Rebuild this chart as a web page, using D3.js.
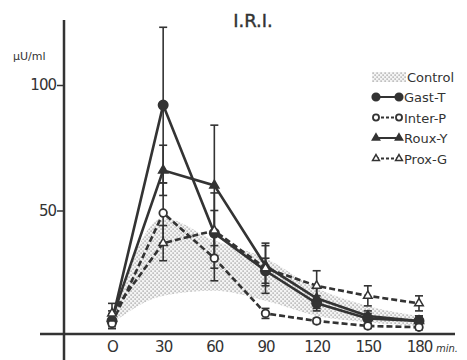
<!DOCTYPE html>
<html>
<head>
<meta charset="utf-8">
<script src="https://cdn.jsdelivr.net/npm/d3@7.9.0/dist/d3.min.js"></script>
<style>
  body { margin: 0; background: #fff; }
  svg text { font-family: "DejaVu Sans", sans-serif; fill: #333; }
</style>
</head>
<body>
<svg width="467" height="360"></svg>
<script>
// time points (min) and tick labels
const times = [0, 30, 60, 90, 120, 150, 180];
const xLabels = ['O', '30', '60', '90', '120', '150', '180'];
const yTicks = [50, 100];

// control range (shaded band)
const controlUpper = [8, 47, 38, 31, 19, 12, 8];
const controlLower = [5, 16, 18, 14, 8, 5.5, 4];

// group means and SD
const gastT = [6, 92, 41, 26, 13, 7, 6];
const gastTSd = [3, 31, 9, 5, 3, 2, 2];
const interP = [5, 49, 31, 9, 6, 4, 3.5];
const interPSd = [2, 12, 9, 2, 1, 1, 1];
const rouxY = [7, 66, 60, 28, 15, 8, 6];
const rouxYSd = [3, 10, 24, 8, 4, 2, 2];
const proxG = [9, 37, 42, 27, 20, 16, 13];
const proxGSd = [4, 7, 15, 10, 6, 4, 3];

const series = [
  { name: 'Gast-T', values: gastT, sd: gastTSd, dashed: false, shape: 'circle', filled: true },
  { name: 'Inter-P', values: interP, sd: interPSd, dashed: true, shape: 'circle', filled: false },
  { name: 'Roux-Y', values: rouxY, sd: rouxYSd, dashed: false, shape: 'triangle', filled: true },
  { name: 'Prox-G', values: proxG, sd: proxGSd, dashed: true, shape: 'triangle', filled: false },
];

const ink = '#333';
const svg = d3.select('svg');

let x = d3.scaleLinear().domain([0, 180]).range([112, 419]);
let y = d3.scaleLinear().domain([0, 100]).range([336, 85]);

// stipple pattern for control (staggered dots)
const defs = svg.append('defs');
const pat = defs.append('pattern')
  .attr('id', 'dots')
  .attr('width', 4).attr('height', 4)
  .attr('patternUnits', 'userSpaceOnUse');
pat.append('rect').attr('width', 4).attr('height', 4).attr('fill', '#f4f4f4');
pat.append('rect').attr('x', 0.5).attr('y', 0.5).attr('width', 1.2).attr('height', 1.2).attr('fill', '#8c8c8c');
pat.append('rect').attr('x', 2.5).attr('y', 2.5).attr('width', 1.2).attr('height', 1.2).attr('fill', '#8c8c8c');

// control band
let area = d3.area()
  .x((d, i) => x(times[i]))
  .y0((d, i) => y(controlLower[i]))
  .y1((d) => y(d))
  .curve(d3.curveMonotoneX);
svg.append('path')
  .datum(controlUpper)
  .attr('d', area)
  .attr('fill', 'url(#dots)');

// axes
svg.append('line')
  .attr('x1', 64).attr('x2', 64).attr('y1', 20).attr('y2', 360)
  .attr('stroke', ink).attr('stroke-width', 2.5);
svg.append('line')
  .attr('x1', 40).attr('x2', 455).attr('y1', 334).attr('y2', 334)
  .attr('stroke', ink).attr('stroke-width', 2.5);

let yAxis = svg.append('g')
  .attr('transform', 'translate(64,0)')
  .call(d3.axisLeft(y).tickValues(yTicks).tickSize(7).tickPadding(1));
yAxis.select('.domain').remove();
yAxis.selectAll('line').attr('stroke', ink).attr('stroke-width', 1.5);
yAxis.selectAll('text').attr('font-size', 15).attr('fill', ink)
  .style('font-family', '"DejaVu Sans", sans-serif').attr('letter-spacing', -1);

let xAxis = svg.append('g')
  .attr('transform', 'translate(0,334)')
  .call(d3.axisBottom(x).tickValues(times).tickSize(0).tickPadding(7)
    .tickFormat((d, i) => xLabels[i]));
xAxis.select('.domain').remove();
xAxis.selectAll('text').attr('font-size', 15).attr('fill', ink)
  .style('font-family', '"DejaVu Sans", sans-serif').attr('letter-spacing', -1);

// titles
svg.append('text').attr('x', 253).attr('y', 27).attr('text-anchor', 'middle')
  .attr('font-size', 18).attr('stroke', ink).attr('stroke-width', 0.4).text('I.R.I.');
svg.append('text').attr('x', 13).attr('y', 60)
  .attr('font-size', 11).text('μU/ml');
svg.append('text').attr('x', 436).attr('y', 352)
  .attr('font-size', 10).attr('font-style', 'italic').text('min.');

// error bars
series.forEach((s) => {
  let g = svg.append('g');
  s.values.forEach((v, i) => {
    let cx = x(times[i]);
    let top = y(v + s.sd[i]);
    let bot = y(Math.max(0, v - s.sd[i]));
    g.append('line').attr('x1', cx).attr('x2', cx).attr('y1', top).attr('y2', bot)
      .attr('stroke', ink).attr('stroke-width', 1.6);
    [top, bot].forEach((yy) => {
      g.append('line').attr('x1', cx - 4).attr('x2', cx + 4).attr('y1', yy).attr('y2', yy)
        .attr('stroke', ink).attr('stroke-width', 1.6);
    });
  });
});

function drawMarker(g, s, cx, cy, k = 1) {
  if (s.shape === 'circle') {
    g.append('circle').attr('cx', cx).attr('cy', cy).attr('r', (s.filled ? 4.6 : 3.8) * k)
      .attr('fill', s.filled ? ink : '#fff').attr('stroke', ink).attr('stroke-width', 1.8);
  } else {
    g.append('path')
      .attr('d', d3.symbol().type(d3.symbolTriangle).size((s.filled ? 36 : 32) * k * k)())
      .attr('transform', `translate(${cx},${cy})`)
      .attr('fill', s.filled ? ink : '#fff').attr('stroke', ink).attr('stroke-width', 1.5);
  }
}

// lines
let line = d3.line().x((d, i) => x(times[i])).y((d) => y(d));
series.forEach((s) => {
  svg.append('path')
    .datum(s.values)
    .attr('d', line)
    .attr('fill', 'none')
    .attr('stroke', ink)
    .attr('stroke-width', 2.6)
    .attr('stroke-dasharray', s.dashed ? '6,3' : null);
});

// markers
series.forEach((s) => {
  let g = svg.append('g');
  s.values.forEach((v, i) => drawMarker(g, s, x(times[i]), y(v)));
});

// legend
let legend = svg.append('g');
legend.append('rect').attr('x', 372).attr('y', 72).attr('width', 34).attr('height', 10)
  .attr('fill', 'url(#dots)');
legend.append('text').attr('x', 407).attr('y', 82).attr('font-size', 13).text('Control');
series.forEach((s, i) => {
  let ly = 97 + i * 20.5;
  legend.append('line').attr('x1', 376).attr('x2', 399).attr('y1', ly).attr('y2', ly)
    .attr('stroke', ink).attr('stroke-width', 2)
    .attr('stroke-dasharray', s.dashed ? '3,2' : null);
  drawMarker(legend, s, 376, ly, 0.8);
  drawMarker(legend, s, 399, ly, 0.8);
  legend.append('text').attr('x', 404).attr('y', ly + 5).attr('font-size', 13).text(s.name);
});
</script>
</body>
</html>
